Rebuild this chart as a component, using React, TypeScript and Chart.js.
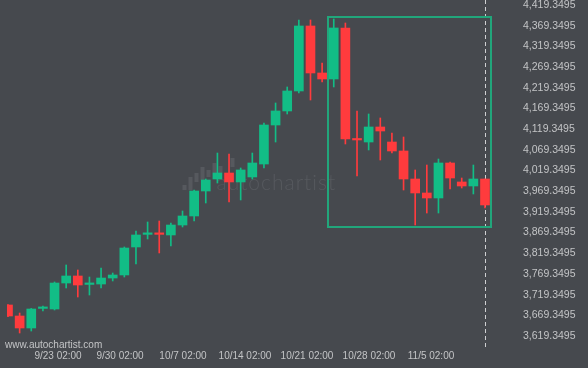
import React, { useEffect, useRef } from "react";
import { Chart, registerables } from "chart.js";

Chart.register(...registerables);

// Daily candles (index 0 .. 41)
const opens = [
  3694.3, 3667.7, 3638.7, 3686.0, 3684.6, 3747.4, 3764.4, 3744.0, 3745.0, 3759.5,
  3766.8, 3834.5, 3865.0, 3867.0, 3863.5, 3887.6, 3909.4, 3969.8, 3998.8, 4013.3,
  3991.6, 4003.7, 4035.0, 4129.3, 4163.2, 4211.5, 4368.6, 4255.0, 4240.5, 4363.8,
  4095.5, 4088.2, 4124.5, 4088.2, 4066.5, 3998.8, 3965.0, 3952.9, 4037.5, 3991.6,
  3981.9, 3998.8,
];
const highs = [
  3695.5, 3674.9, 3686.0, 3691.9, 3749.9, 3791.0, 3778.9, 3761.9, 3783.7, 3771.6,
  3834.5, 3873.1, 3894.9, 3897.3, 3892.5, 3921.5, 3972.2, 3998.8, 4061.6, 4059.0,
  4025.4, 4061.6, 4134.2, 4182.5, 4221.2, 4383.1, 4383.1, 4279.2, 4385.5, 4375.8,
  4163.2, 4155.9, 4146.3, 4110.0, 4100.3, 4020.6, 4032.6, 4047.1, 4039.9, 4001.2,
  4032.6, 3998.8,
];
const lows = [
  3666.0, 3626.6, 3631.4, 3679.8, 3682.2, 3735.4, 3713.6, 3718.4, 3735.4, 3752.3,
  3761.9, 3793.4, 3853.8, 3820.0, 3836.9, 3882.8, 3897.3, 3940.8, 3989.1, 3943.2,
  3948.1, 3998.8, 4025.4, 4088.2, 4155.9, 4206.7, 4189.7, 4233.2, 4221.2, 4083.4,
  4006.1, 4068.9, 4044.7, 4061.6, 3972.2, 3887.6, 3916.6, 3916.6, 3974.6, 3977.0,
  3962.6, 3928.7,
];
const closes = [
  3667.7, 3638.7, 3684.6, 3688.0, 3747.4, 3764.4, 3742.6, 3746.0, 3759.5, 3766.8,
  3832.0, 3863.5, 3867.0, 3865.0, 3887.6, 3909.4, 3969.8, 3996.4, 4013.3, 3991.6,
  4020.6, 4037.5, 4129.3, 4163.2, 4211.5, 4368.6, 4255.0, 4240.5, 4363.8, 4095.5,
  4093.1, 4124.5, 4114.8, 4066.5, 3998.8, 3965.0, 3952.9, 4037.5, 4001.2, 3981.9,
  3998.8, 3936.0,
];

const xTickPos = [4.3, 9.63, 15.04, 20.37, 25.7, 31.03, 36.36];
const xTickLabels = [
  "9/23 02:00", "9/30 02:00", "10/7 02:00", "10/14 02:00",
  "10/21 02:00", "10/28 02:00", "11/5 02:00",
];
const yTickValues = [
  3619.3495, 3669.3495, 3719.3495, 3769.3495, 3819.3495, 3869.3495, 3919.3495,
  3969.3495, 4019.3495, 4069.3495, 4119.3495, 4169.3495, 4219.3495, 4269.3495,
  4319.3495, 4369.3495, 4419.3495,
];
const yTickLabels = [
  "3,619.3495", "3,669.3495", "3,719.3495", "3,769.3495", "3,819.3495", "3,869.3495",
  "3,919.3495", "3,969.3495", "4,019.3495", "4,069.3495", "4,119.3495", "4,169.3495",
  "4,219.3495", "4,269.3495", "4,319.3495", "4,369.3495", "4,419.3495",
];

// Pattern box (candle index range, price range)
const boxStart = 27.5;
const boxEnd = 41.52;
const boxHigh = 4390.3;
const boxLow = 3882.8;

const X_MIN = -0.086;
const X_MAX = 42.29;
const Y_MIN = 3597.6;
const Y_MAX = 4431.4;

const UP = "#12bd86";
const DOWN = "#ff3b3d";
const BG = "#46494e";
const TEXT = "#c3c4c6";
const FONT = "'Liberation Sans', Arial, sans-serif";

const zeroPad = (s: any) => {
  s.paddingTop = 0;
  s.paddingBottom = 0;
  s.paddingLeft = 0;
  s.paddingRight = 0;
};

const overlay = {
  id: "overlay",
  beforeDatasetsDraw(chart: any) {
    const { ctx, chartArea, scales } = chart;
    const x = scales.x;
    ctx.save();
    // watermark
    const cx = (chartArea.left + chartArea.right) / 2;
    const cy = (chartArea.top + chartArea.bottom) / 2;
    ctx.fillStyle = "#56595e";
    const bars = [
      [0, 5, 190], [6, 13, 190], [12, 9, 182], [18, 13, 180], [24, 7, 177],
      [30, 10, 173], [36, 7, 173], [48, 9, 167],
    ];
    const bx = cx - 71;
    bars.forEach(([dx, h, bottom]) => {
      ctx.fillRect(bx + dx, bottom - h + (cy - 172.5), 4, h);
    });
    ctx.font = `300 21px Lato, ${FONT}`;
    ctx.textBaseline = "alphabetic";
    ctx.textAlign = "left";
    try {
      (ctx as any).letterSpacing = "1px";
    } catch (e) {}
    ctx.fillText("autochartist", cx - 37, cy + 17);
    try {
      (ctx as any).letterSpacing = "0px";
    } catch (e) {}
    // current time dashed line
    const lx = Math.round(x.getPixelForValue(closes.length - 1)) + 0.5;
    ctx.strokeStyle = "#cfd0d2";
    ctx.lineWidth = 1;
    ctx.setLineDash([4, 3]);
    ctx.beginPath();
    ctx.moveTo(lx, 0);
    ctx.lineTo(lx, chartArea.bottom + 5);
    ctx.stroke();
    ctx.restore();
  },
  afterDatasetsDraw(chart: any) {
    const { ctx, scales } = chart;
    const x = scales.x;
    const y = scales.y;
    ctx.save();
    const x0 = x.getPixelForValue(boxStart);
    const x1 = x.getPixelForValue(boxEnd);
    const y0 = y.getPixelForValue(boxHigh);
    const y1 = y.getPixelForValue(boxLow);
    ctx.strokeStyle = "#21a67b";
    ctx.lineWidth = 2;
    ctx.strokeRect(Math.round(x0), Math.round(y0), Math.round(x1 - x0), Math.round(y1 - y0));
    ctx.restore();
  },
  afterDraw(chart: any) {
    const { ctx, chartArea } = chart;
    ctx.save();
    ctx.fillStyle = TEXT;
    ctx.font = `10px ${FONT}`;
    ctx.textBaseline = "middle";
    ctx.textAlign = "left";
    ctx.fillText("www.autochartist.com", 5, chartArea.bottom);
    ctx.restore();
  },
};

export default function App() {
  const ref = useRef<HTMLCanvasElement | null>(null);

  useEffect(() => {
    if (!ref.current) return;
    const colors = closes.map((c, i) => (c >= opens[i] ? UP : DOWN));
    const bodies = closes.map((c, i) => ({ x: i, y: [opens[i], c] }));
    const wicks = closes.map((_, i) => ({ x: i, y: [lows[i], highs[i]] }));

    const chart = new Chart(ref.current, {
      type: "bar",
      data: {
        datasets: [
          {
            data: bodies as any,
            backgroundColor: colors,
            borderWidth: 0,
            borderSkipped: false,
            grouped: false,
            categoryPercentage: 1,
            barPercentage: 1,
            maxBarThickness: 9,
            minBarLength: 1.5,
          } as any,
          {
            data: wicks as any,
            backgroundColor: colors,
            borderWidth: 0,
            borderSkipped: false,
            grouped: false,
            categoryPercentage: 1,
            barPercentage: 1,
            maxBarThickness: 1,
          } as any,
        ],
      },
      options: {
        responsive: false,
        animation: false,
        events: [],
        layout: { padding: { left: 7, top: 0, right: 0, bottom: 0 } },
        plugins: { legend: { display: false }, tooltip: { enabled: false } },
        scales: {
          x: {
            type: "linear",
            min: X_MIN,
            max: X_MAX,
            offset: false,
            bounds: "data",
            grid: { display: false, drawTicks: false },
            border: { display: false },
            afterBuildTicks: (s: any) => {
              s.ticks = xTickPos.map((v) => ({ value: v }));
            },
            afterFit: (s: any) => {
              s.height = 23;
              zeroPad(s);
            },
            ticks: {
              autoSkip: false,
              maxRotation: 0,
              padding: 5,
              color: TEXT,
              font: { family: FONT, size: 10 },
              callback: (_v: any, i: number) => xTickLabels[i],
            },
          },
          y: {
            type: "linear",
            position: "right",
            min: Y_MIN,
            max: Y_MAX,
            bounds: "data",
            grid: { display: false, drawTicks: false },
            border: { display: false },
            afterBuildTicks: (s: any) => {
              s.ticks = yTickValues.map((v) => ({ value: v }));
            },
            afterFit: (s: any) => {
              s.width = 88;
              zeroPad(s);
            },
            ticks: {
              autoSkip: false,
              padding: 23,
              crossAlign: "near",
              color: TEXT,
              font: { family: FONT, size: 10.5 },
              callback: (_v: any, i: number) => yTickLabels[i],
            },
          },
        },
      } as any,
      plugins: [overlay],
    });
    return () => chart.destroy();
  }, []);

  return (
    <div
      style={{
        position: "fixed",
        left: 0,
        top: 0,
        width: 588,
        height: 368,
        background: BG,
      }}
    >
      <canvas ref={ref} width={588} height={368} style={{ display: "block" }} />
    </div>
  );
}
